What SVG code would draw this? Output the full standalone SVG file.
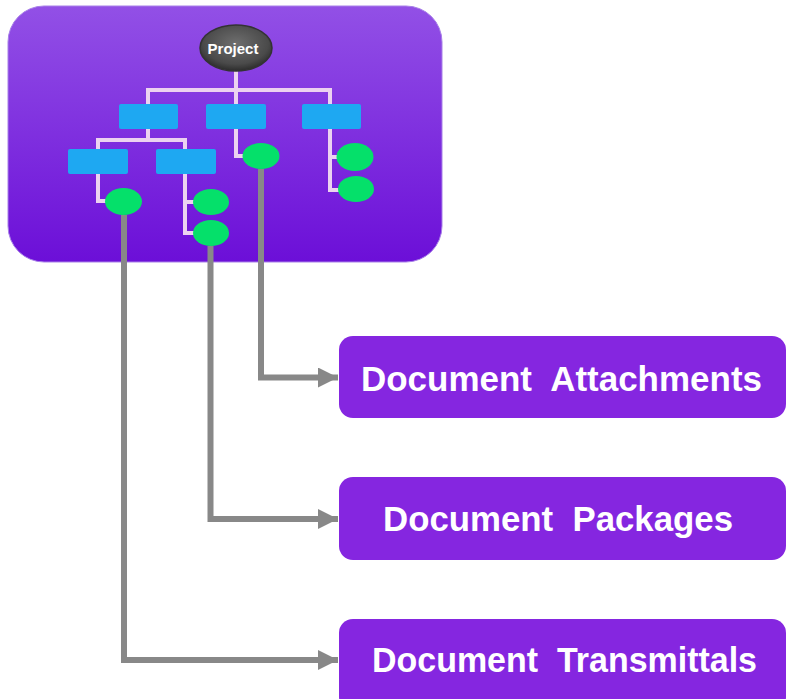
<svg xmlns="http://www.w3.org/2000/svg" width="787" height="699" viewBox="0 0 787 699">
<defs>
<linearGradient id="bg" x1="0" y1="0" x2="0" y2="1">
<stop offset="0" stop-color="#9250e6"/>
<stop offset="1" stop-color="#6c0fd8"/>
</linearGradient>
<radialGradient id="proj" cx="0.5" cy="0.4" r="0.6">
<stop offset="0" stop-color="#6e6e6e"/>
<stop offset="0.75" stop-color="#4a4a4a"/>
<stop offset="1" stop-color="#2c2c2c"/>
</radialGradient>
<marker id="arr" markerUnits="userSpaceOnUse" markerWidth="22" markerHeight="20" refX="20" refY="10" orient="auto">
<path d="M0,0 L20,10 L0,20 Z" fill="#888888"/>
</marker>
</defs>
<style>
.tree{fill:none;stroke:#ecd2f0;stroke-width:4}
.box{fill:#1ea8f2}
.leaf{fill:#05e06a}
.conn{fill:none;stroke:#888888;stroke-width:6;marker-end:url(#arr)}
.target{fill:#8526e0}
.tlabel{font-family:"Liberation Sans",Arial,sans-serif;font-weight:bold;font-size:35px;fill:#ffffff;text-anchor:middle;white-space:pre}
</style>
<g id="project-panel">
<rect x="8" y="6" width="434" height="256" rx="36" ry="36" fill="url(#bg)" stroke="#a880e8" stroke-width="1"/>
</g>
<g id="tree-lines">
<path class="tree" d="M236,70 V90 M148,104 V90 H330 V104 M236,90 V104"/>
<path class="tree" d="M148,129 V140 M98,149 V140 H185 V149"/>
<path class="tree" d="M98,174 V201 H106"/>
<path class="tree" d="M185,174 V233 H194 M185,202 H194"/>
<path class="tree" d="M236,129 V156 H244"/>
<path class="tree" d="M330,129 V190 H339 M330,157 H337"/>
</g>
<g id="node-project">
<ellipse cx="236" cy="48" rx="36" ry="23" fill="url(#proj)" stroke="#333333" stroke-width="1.5"/>
<text x="233" y="53.5" font-family="Liberation Sans,Arial,sans-serif" font-weight="bold" font-size="15" fill="#ffffff" text-anchor="middle">Project</text>
</g>
<g id="node-box1"><rect class="box" x="119" y="104" width="59" height="25" rx="2"/></g>
<g id="node-box2"><rect class="box" x="206" y="104" width="60" height="25" rx="2"/></g>
<g id="node-box3"><rect class="box" x="302" y="104" width="59" height="25" rx="2"/></g>
<g id="node-box4"><rect class="box" x="68" y="149" width="60" height="25" rx="2"/></g>
<g id="node-box5"><rect class="box" x="156" y="149" width="60" height="25" rx="2"/></g>
<g id="leaf1"><ellipse class="leaf" cx="123.5" cy="201.5" rx="18.5" ry="13.5"/></g>
<g id="leaf2"><ellipse class="leaf" cx="211" cy="202" rx="18" ry="13"/></g>
<g id="leaf3"><ellipse class="leaf" cx="211" cy="233" rx="18" ry="13"/></g>
<g id="leaf4"><ellipse class="leaf" cx="261" cy="156" rx="18.5" ry="13"/></g>
<g id="leaf5"><ellipse class="leaf" cx="355" cy="157" rx="18.5" ry="14"/></g>
<g id="leaf6"><ellipse class="leaf" cx="356" cy="189" rx="18" ry="13"/></g>
<g id="connectors">
<path class="conn" d="M261,169 V377.5 H338"/>
<path class="conn" d="M210.5,246 V519 H338"/>
<path class="conn" d="M124,215 V660 H338"/>
</g>
<g id="node-attachments">
<rect class="target" x="339" y="336" width="447" height="82" rx="14"/>
<text class="tlabel" xml:space="preserve" x="561.5" y="391" textLength="401" lengthAdjust="spacingAndGlyphs">Document  Attachments</text>
</g>
<g id="node-packages">
<rect class="target" x="339" y="477" width="447" height="83" rx="14"/>
<text class="tlabel" xml:space="preserve" x="558" y="531" textLength="350" lengthAdjust="spacingAndGlyphs">Document  Packages</text>
</g>
<g id="node-transmittals">
<rect class="target" x="339" y="619" width="447" height="92" rx="14"/>
<text class="tlabel" xml:space="preserve" x="564.5" y="672" textLength="385" lengthAdjust="spacingAndGlyphs">Document  Transmittals</text>
</g>
</svg>
